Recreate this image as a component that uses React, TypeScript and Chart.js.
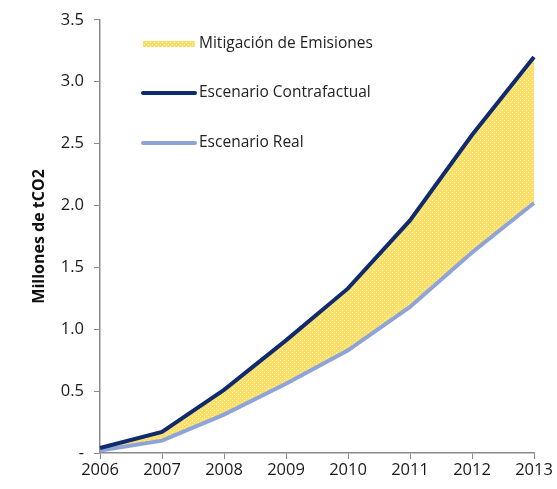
import React, { useEffect, useRef } from "react";
import { Chart, registerables } from "chart.js";

Chart.register(...registerables);

const years = ["2006", "2007", "2008", "2009", "2010", "2011", "2012", "2013"];
const contrafactual = [0.04, 0.17, 0.51, 0.91, 1.33, 1.88, 2.57, 3.2];
const real = [0.02, 0.1, 0.31, 0.56, 0.83, 1.18, 1.62, 2.02];
const legendLabels = ["Mitigación de Emisiones", "Escenario Contrafactual", "Escenario Real"];
const yTitle = "Millones de tCO2";

const NAVY = "#0f2a6e";
const LIGHT = "#8ea4d8";
const FONT = "'Open Sans', sans-serif";

function makePattern(): CanvasPattern | string {
  const c = document.createElement("canvas");
  c.width = 4;
  c.height = 4;
  const g = c.getContext("2d");
  if (!g) return "#fbe06a";
  g.fillStyle = "#fbdf66";
  g.fillRect(0, 0, 4, 4);
  g.fillStyle = "#fff4c4";
  g.fillRect(0, 0, 1, 1);
  g.fillRect(2, 2, 1, 1);
  const p = g.createPattern(c, "repeat");
  return p || "#fbe06a";
}

export default function App() {
  const ref = useRef<HTMLCanvasElement>(null);
  useEffect(() => {
    if (!ref.current) return;
    const pattern = makePattern();
    const legendPlugin = {
      id: "customLegend",
      afterDraw(chart: any) {
        const ctx = chart.ctx;
        ctx.save();
        const x0 = 143, x1 = 195;
        const rows = [44, 93, 143];
        ctx.fillStyle = pattern;
        ctx.fillRect(x0, rows[0] - 3, x1 - x0, 6);
        ctx.lineCap = "round";
        ctx.strokeStyle = NAVY;
        ctx.lineWidth = 4;
        ctx.beginPath();
        ctx.moveTo(x0, rows[1]);
        ctx.lineTo(x1, rows[1]);
        ctx.stroke();
        ctx.strokeStyle = LIGHT;
        ctx.lineWidth = 4;
        ctx.beginPath();
        ctx.moveTo(x0, rows[2]);
        ctx.lineTo(x1, rows[2]);
        ctx.stroke();
        ctx.fillStyle = "#222";
        ctx.font = `15.5px ${FONT}`;
        ctx.textBaseline = "middle";
        ctx.textAlign = "left";
        legendLabels.forEach((t, i) => ctx.fillText(t, 199, rows[i]));
        ctx.restore();
      },
    };
    const chart = new Chart(ref.current, {
      type: "line",
      data: {
        labels: years,
        datasets: [
          {
            label: legendLabels[1],
            data: contrafactual,
            borderColor: NAVY,
            borderWidth: 4,
            pointRadius: 0,
            tension: 0,
            fill: "+1",
            backgroundColor: pattern as any,
          },
          {
            label: legendLabels[2],
            data: real,
            borderColor: LIGHT,
            borderWidth: 4,
            pointRadius: 0,
            tension: 0,
            fill: false,
          },
        ],
      },
      options: {
        animation: false,
        responsive: false,
        layout: { padding: { top: 10, right: 23, left: 0, bottom: 0 } },
        plugins: {
          legend: { display: false },
          tooltip: { enabled: false },
          filler: { drawTime: "beforeDatasetsDraw" },
        },
        scales: {
          x: {
            offset: false,
            grid: { drawOnChartArea: false, drawTicks: true, tickLength: 6, color: "#8a8a8a" },
            border: { color: "#8a8a8a", width: 1.5 },
            ticks: { color: "#1a1a1a", font: { family: FONT, size: 16.5 }, padding: 1, maxRotation: 0 },
            afterFit(s: any) {
              s.height = 36;
            },
          },
          y: {
            min: 0,
            max: 3.5,
            grid: { drawOnChartArea: false, drawTicks: true, tickLength: 6, color: "#8a8a8a" },
            border: { color: "#8a8a8a", width: 1.5 },
            ticks: {
              stepSize: 0.5,
              color: "#1a1a1a",
              font: { family: FONT, size: 16.5 },
              padding: 10,
              callback: (v: any) => (Number(v) === 0 ? "-" : Number(v).toFixed(1)),
            },
            title: {
              display: true,
              text: yTitle,
              color: "#111",
              font: { family: FONT, size: 16, weight: "bold" },
              padding: { top: 30, bottom: 0 },
            },
            afterFit(s: any) {
              s.width = 100;
            },
          },
        },
      },
      plugins: [legendPlugin],
    });
    return () => chart.destroy();
  }, []);
  return (
    <div style={{ position: "fixed", left: 0, top: 0, width: 557, height: 489, background: "#fff" }}>
      <canvas ref={ref} width={557} height={489} />
    </div>
  );
}
